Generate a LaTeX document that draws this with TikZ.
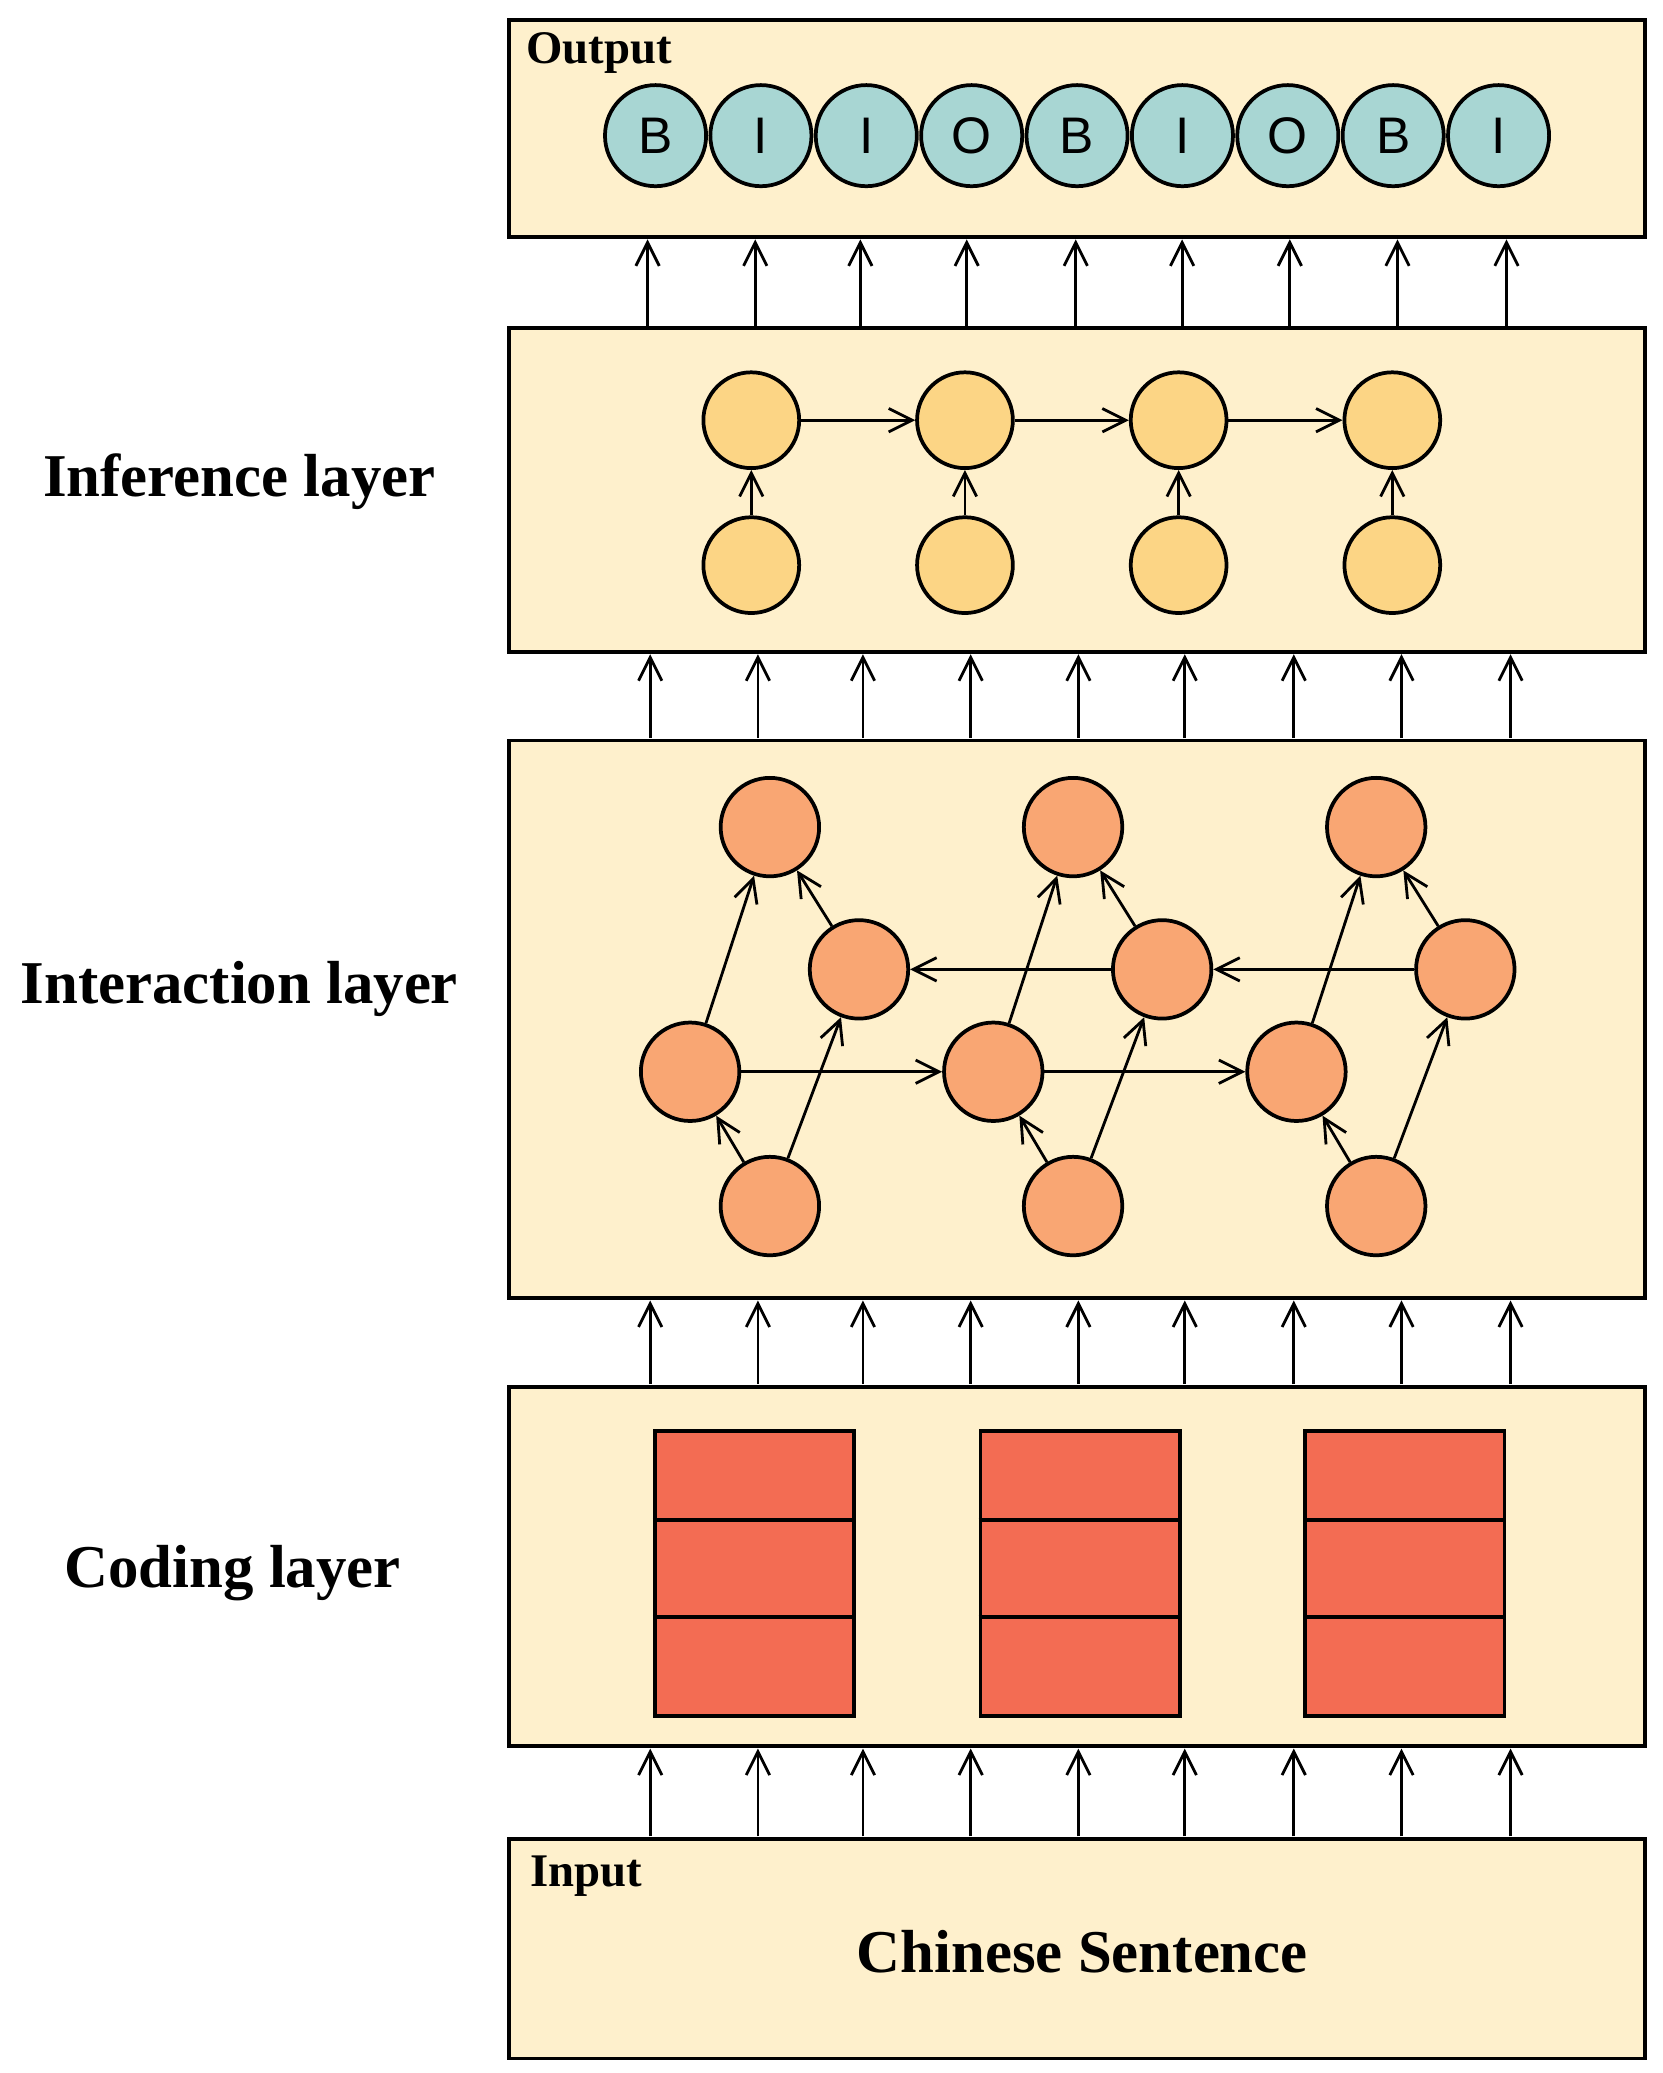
\documentclass[tikz,border=0pt]{standalone}
\usepackage{fontspec}
\setmainfont{Liberation Serif}
\newfontfamily\sansf{Liberation Sans}
\usetikzlibrary{arrows.meta}
\definecolor{layerbg}{HTML}{FEF0CC}
\definecolor{outcol}{HTML}{A8D6D3}
\definecolor{infcol}{HTML}{FCD585}
\definecolor{intcol}{HTML}{F9A673}
\definecolor{codcol}{HTML}{F36C53}
\tikzset{
    layer/.style={draw, thick, fill=layerbg},
    tag/.style={font=\bfseries\fontsize{10}{12}\selectfont, anchor=north west, inner sep=0pt},
    side/.style={font=\bfseries\fontsize{13}{15}\selectfont},
    outnode/.style={circle, draw, thick, fill=outcol, minimum width=0.7cm, minimum height=0.76cm, inner sep=0pt, font=\sansf\fontsize{11}{13}\selectfont},
    infnode/.style={circle, draw, thick, fill=infcol, minimum size=0.72cm, inner sep=0pt},
    intnode/.style={circle, draw, thick, fill=intcol, minimum size=0.74cm, inner sep=0pt},
    arr/.style={-{Straight Barb[length=5pt,width=5pt]}, semithick},
    link/.style={-{Straight Barb[length=5pt,width=5pt]}, semithick}
}
\begin{document}
\begin{tikzpicture}[x=0.01cm, y=-0.01cm]
    \useasboundingbox (0,0) rectangle (1250,1559);

    % Layer boxes
    \node[layer, minimum width=8.54cm, minimum height=1.63cm, inner sep=0pt] (outbox) at (810,96.5) {};
    \node[layer, minimum width=8.54cm, minimum height=2.43cm, inner sep=0pt] (infbox) at (810,368.5) {};
    \node[layer, minimum width=8.54cm, minimum height=4.19cm, inner sep=0pt] (intbox) at (810,766.5) {};
    \node[layer, minimum width=8.54cm, minimum height=2.70cm, inner sep=0pt] (codbox) at (810,1178) {};
    \node[layer, minimum width=8.54cm, minimum height=1.65cm, inner sep=0pt] (inbox) at (810,1465.5) {};

    % Texts
    \node[tag] (outtag) at (395,24) {Output};
    \node[tag] (intag) at (398,1395) {Input};
    \node[side] (sent) at (814,1468) {Chinese Sentence};
    \node[side] (inflab) at (180,362) {Inference layer};
    \node[side] (intlab) at (180,744) {Interaction layer};
    \node[side] (codlab) at (175,1183) {Coding layer};

    % Output tags
    \foreach \t [count=\i] in {B,I,I,O,B,I,O,B,I} {
        \node[outnode] (o\i) at ({493+79.25*(\i-1)},102) {\t};
    }

    % Inference layer
    \foreach \i in {1,...,4} {
        \node[infnode] (it\i) at ({565+160.7*(\i-1)},316) {};
        \node[infnode] (ib\i) at ({565+160.7*(\i-1)},425) {};
        \draw[link] (ib\i) -- (it\i);
    }
    \foreach \i [evaluate=\i as \j using int(\i+1)] in {1,2,3} {
        \draw[link] (it\i) -- (it\j);
    }

    % Interaction layer
    \foreach \g in {1,2,3} {
        \node[intnode] (nt\g) at ({579+228*(\g-1)},622) {};
        \node[intnode] (nr\g) at ({646+228*(\g-1)},729) {};
        \node[intnode] (nl\g) at ({519+228*(\g-1)},806) {};
        \node[intnode] (nb\g) at ({579+228*(\g-1)},907) {};
        \draw[link] (nl\g) -- (nt\g);
        \draw[link] (nr\g) -- (nt\g);
        \draw[link] (nb\g) -- (nl\g);
        \draw[link] (nb\g) -- (nr\g);
    }
    \foreach \g [evaluate=\g as \h using int(\g+1)] in {1,2} {
        \draw[link] (nl\g) -- (nl\h);
        \draw[link] (nr\h) -- (nr\g);
    }

    % Coding layer
    \foreach \x [count=\i] in {491,736,980} {
        \node[draw, thick, fill=codcol, minimum width=1.5cm, minimum height=2.14cm, inner sep=0pt, anchor=north west] (blk\i) at (\x,1075) {};
        \draw[thick] (\x,1143) -- ++(150,0);
        \draw[thick] (\x,1216) -- ++(150,0);
    }

    % Arrows between layers
    \foreach \x [count=\i] in {487,568,647,727,809,889,970,1051,1133} {
        \coordinate (a\i) at (\x,245); \coordinate (b\i) at (\x,180);
        \draw[arr] (a\i) -- (b\i);
    }
    \foreach \y/\z/\n in {555/492/p, 1041/978/q, 1381/1315/r} {
        \foreach \x [count=\i] in {489,570,649,730,811,891,973,1054,1136} {
            \coordinate (\n s\i) at (\x,\y); \coordinate (\n e\i) at (\x,\z);
            \draw[arr] (\n s\i) -- (\n e\i);
        }
    }
\end{tikzpicture}
\end{document}
